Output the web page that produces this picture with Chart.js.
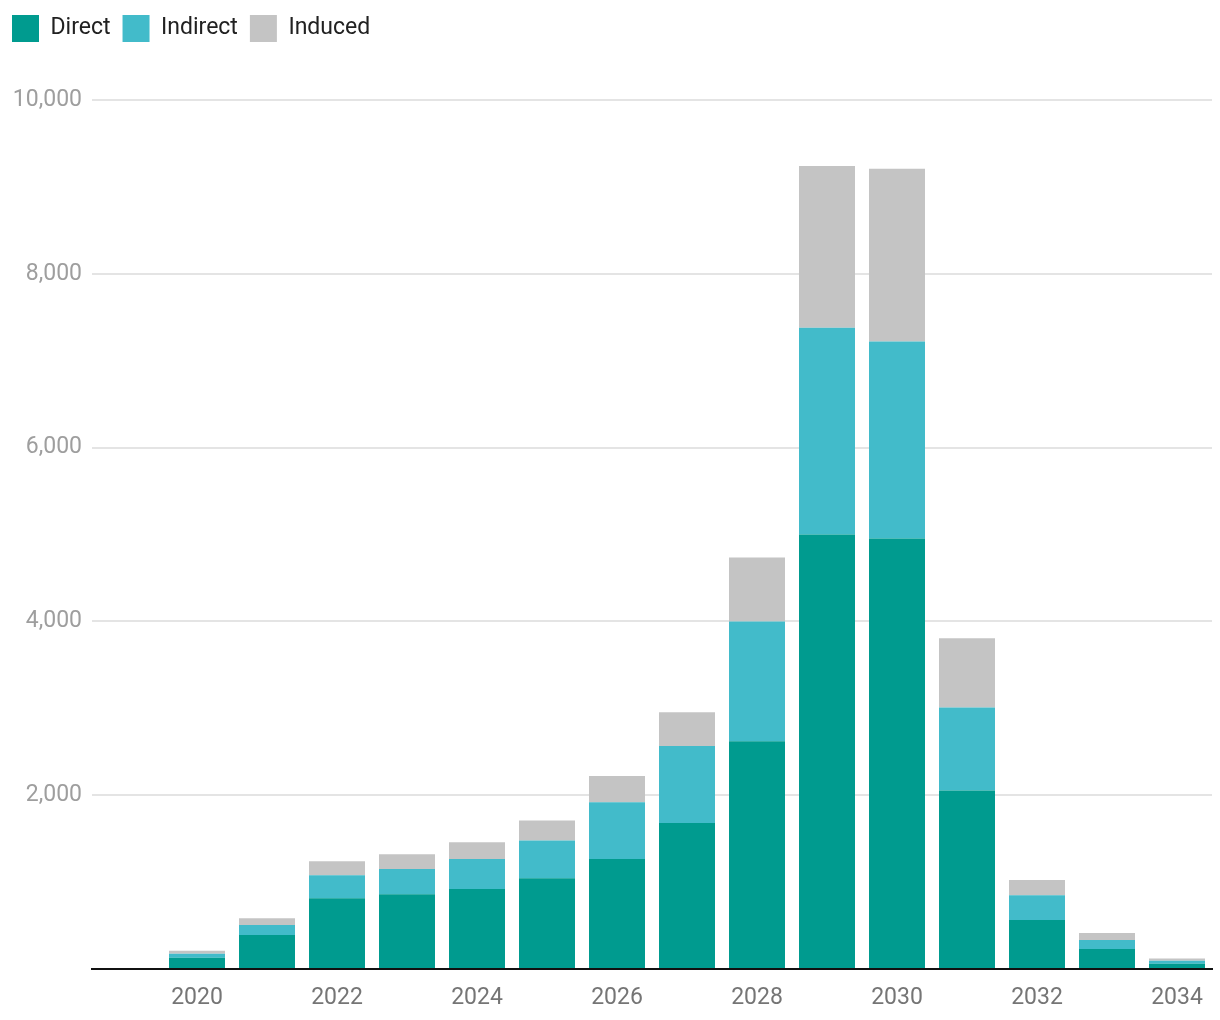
<!DOCTYPE html>
<html>
<head>
<meta charset="utf-8">
<script src="https://cdn.jsdelivr.net/npm/chart.js@4"></script>
<style>
  html, body { margin: 0; padding: 0; background: #fff; }
  #wrap { width: 1220px; height: 1020px; position: relative; }
</style>
</head>
<body>
<div id="wrap"><canvas id="grafico"></canvas></div>
<script>
const anios = ['2019', '2020', '2021', '2022', '2023', '2024', '2025', '2026', '2027', '2028', '2029', '2030', '2031', '2032', '2033', '2034'];
const etiquetasX = ['2020', '2022', '2024', '2026', '2028', '2030', '2032', '2034'];
const ticksY = [0, 2000, 4000, 6000, 8000, 10000];

const directo = [null, 130, 390, 815, 860, 920, 1045, 1265, 1680, 2620, 5000, 4955, 2055, 565, 230, 60];
const indirecto = [null, 45, 115, 265, 290, 345, 435, 655, 885, 1380, 2380, 2265, 955, 285, 105, 35];
const inducido = [null, 35, 80, 160, 170, 195, 230, 300, 390, 735, 1860, 1990, 795, 175, 80, 25];

const fuente = "Roboto, 'Noto Sans', sans-serif";

// alto fijo para la leyenda, asi el area del grafico parte donde debe
const altoLeyenda = {
  id: 'altoLeyenda',
  beforeInit(chart) {
    const fitOriginal = chart.legend.fit;
    chart.legend.fit = function () {
      fitOriginal.call(this);
      this.height = 97;
    };
  }
};

new Chart(document.getElementById('grafico'), {
  type: 'bar',
  data: {
    labels: anios,
    datasets: [
      { label: 'Direct', data: directo, backgroundColor: '#009B8F' },
      { label: 'Indirect', data: indirecto, backgroundColor: '#42BBCA' },
      { label: 'Induced', data: inducido, backgroundColor: '#C4C4C4' }
    ]
  },
  options: {
    responsive: true,
    maintainAspectRatio: false,
    animation: false,
    layout: { padding: { left: 0, right: 8, top: 3, bottom: 0 } },
    datasets: { bar: { barPercentage: 0.8, categoryPercentage: 1.0 } },
    scales: {
      x: {
        stacked: true,
        grid: { display: false, drawTicks: false },
        border: { display: true, color: '#111', width: 2 },
        ticks: {
          autoSkip: false,
          maxRotation: 0,
          padding: 15,
          color: '#757575',
          font: { family: fuente, size: 23 },
          callback: (v, i) => etiquetasX.includes(anios[i]) ? anios[i] : ''
        },
        afterFit: (scale) => { scale.height = 51; }
      },
      y: {
        stacked: true,
        min: 0,
        max: 10000,
        afterBuildTicks: (scale) => { scale.ticks = ticksY.map(v => ({ value: v })); },
        grid: { color: '#e4e4e4', lineWidth: 2, drawTicks: false },
        border: { display: false },
        ticks: {
          padding: 10,
          color: '#9e9e9e',
          font: { family: fuente, size: 23 },
          callback: (v) => v === 0 ? '' : v.toLocaleString('en-US')
        },
        afterFit: (scale) => { scale.width = 92; }
      }
    },
    plugins: {
      legend: {
        position: 'top',
        align: 'start',
        labels: {
          boxWidth: 27,
          boxHeight: 27,
          padding: 12,
          color: '#212121',
          font: { family: fuente, size: 23 }
        }
      },
      tooltip: { enabled: false }
    }
  },
  plugins: [altoLeyenda]
});
</script>
</body>
</html>
